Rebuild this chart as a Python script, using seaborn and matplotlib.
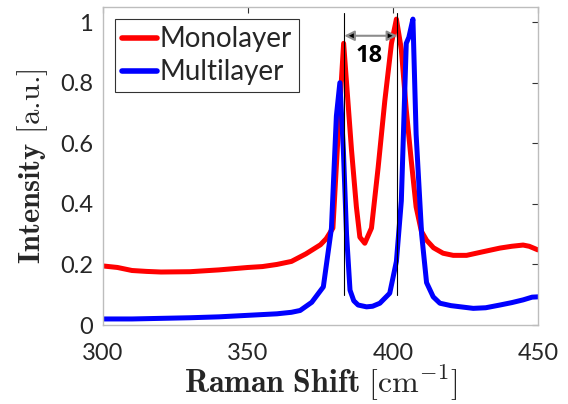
import matplotlib
matplotlib.use("Agg")
import matplotlib.pyplot as plt
import seaborn as sns
import pandas as pd

mono_x = [300, 305, 310, 315, 320, 330, 340, 350, 355, 360, 365, 370, 375, 377,
          379.3, 381.1, 383, 384, 385.7, 387.4, 388.6, 390.3, 392.6, 394.9, 397.2,
          399.5, 401.2, 402.9, 404.6, 406.3, 408.0, 409.8, 411.6, 414, 417.3, 420.8,
          425.4, 431.1, 436.9, 441, 444.9, 447, 450]
mono_y = [0.195, 0.19, 0.18, 0.177, 0.175, 0.176, 0.182, 0.19, 0.193, 0.2, 0.21,
          0.235, 0.265, 0.285, 0.32, 0.63, 0.93, 0.80, 0.58, 0.39, 0.29, 0.27, 0.32,
          0.52, 0.74, 0.93, 1.01, 0.91, 0.71, 0.545, 0.39, 0.31, 0.28, 0.255, 0.237,
          0.23, 0.23, 0.242, 0.254, 0.26, 0.264, 0.26, 0.248]

multi_x = [300, 310, 320, 330, 340, 350, 360, 365, 368, 372, 376, 378.8, 380.5,
           381.7, 382.9, 384, 385.2, 386.5, 388, 390.9, 393, 395.5, 398.9, 401.2,
           402.9, 404.6, 405.5, 406.9, 408, 409.9, 411.6, 413.9, 416.2, 420, 427.7,
           432, 436.9, 441, 444.9, 448, 450]
multi_y = [0.02, 0.02, 0.022, 0.024, 0.027, 0.032, 0.037, 0.042, 0.048, 0.075,
           0.126, 0.32, 0.69, 0.80, 0.58, 0.30, 0.115, 0.08, 0.066, 0.06, 0.062,
           0.072, 0.105, 0.21, 0.41, 0.93, 0.95, 1.01, 0.63, 0.30, 0.14, 0.093,
           0.072, 0.064, 0.055, 0.057, 0.066, 0.074, 0.083, 0.092, 0.093]

series_names = ["Monolayer", "Multilayer"]
peak_lines = [383.2, 401.5]
shift_label = "18"
x_ticks = [300, 350, 400, 450]
y_ticks = [0, 0.2, 0.4, 0.6, 0.8, 1]
y_tick_labels = ["0", "0.2", "0.4", "0.6", "0.8", "1"]

sns.set_style("white")
plt.rcParams["font.family"] = ["Lato", "DejaVu Sans"]
plt.rcParams["mathtext.fontset"] = "cm"

df = pd.concat([
    pd.DataFrame({"x": mono_x, "y": mono_y, "s": series_names[0]}),
    pd.DataFrame({"x": multi_x, "y": multi_y, "s": series_names[1]}),
])

fig = plt.figure(figsize=(5.68, 4.04), dpi=100)
ax = fig.add_axes([0.1813, 0.1955, 0.947 - 0.1813, 0.9827 - 0.1955])

sns.lineplot(data=df, x="x", y="y", hue="s", palette=["#ff0000", "#0000ff"],
             estimator=None, sort=True, lw=3.6, ax=ax)

for xv in peak_lines:
    ax.plot([xv, xv], [0.1, 1.03], color="black", lw=0.8, zorder=3)

ax.annotate("", xy=(peak_lines[0], 0.955), xytext=(peak_lines[1], 0.955),
            arrowprops=dict(arrowstyle="<|-|>", edgecolor="0.55", facecolor="black",
                            lw=1.5, shrinkA=0, shrinkB=0, mutation_scale=15))
ax.text(391.7, 0.888, shift_label,
        fontsize=17, fontweight="bold", ha="center", va="center", color="black",
        family=["Open Sans", "DejaVu Sans"])

ax.set_xlim(300, 450)
ax.set_ylim(0, 1.05)
ax.set_xticks(x_ticks)
ax.set_yticks(y_ticks)
ax.set_yticklabels(y_tick_labels)
ax.tick_params(direction="in", length=4, width=0.8, color="#333333",
               top=True, right=True, labelsize=17, labelcolor="#262626")
ax.tick_params(axis="x", pad=13)
ax.tick_params(axis="y", pad=7)
for sp in ax.spines.values():
    sp.set_color("#bdbdbd")
    sp.set_linewidth(1.0)

ax.set_xlabel(r"$\mathbf{Raman\ Shift}\ [\mathrm{cm}^{-1}]$", fontsize=23,
              color="#262626", labelpad=0)
ax.set_ylabel(r"$\mathbf{Intensity}$ [a.u.]", fontsize=22,
              family=["cmr10", "DejaVu Serif"],
              color="#262626", labelpad=7)

leg = ax.legend(loc="upper left", fontsize=20, frameon=True, fancybox=False,
                handlelength=1.25, handletextpad=0.1, borderpad=0.25,
                labelspacing=0.25, borderaxespad=0.45)
leg.get_frame().set_edgecolor("black")
leg.get_frame().set_linewidth(0.8)
leg.set_title(None)
for line in leg.get_lines():
    line.set_linewidth(4)

fig.savefig("out.png", dpi=100)
